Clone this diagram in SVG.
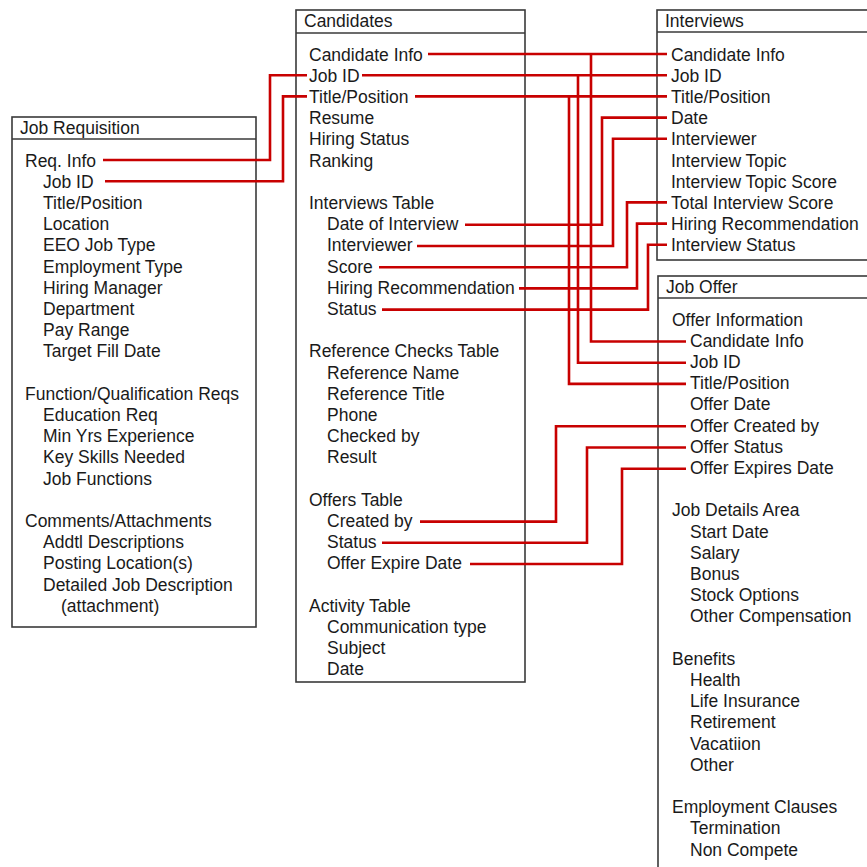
<svg xmlns="http://www.w3.org/2000/svg" width="867" height="867" viewBox="0 0 867 867">
  <style>
    .box { fill: #ffffff; stroke: #3a3a3a; stroke-width: 1.6; }
    .div { stroke: #3a3a3a; stroke-width: 1.6; }
    text { font-family: "Liberation Sans", Arial, Helvetica, sans-serif; font-size: 17.5px; fill: #1a1a1a; }
    .link { fill: none; stroke: #c80000; stroke-width: 2.6; stroke-linejoin: miter; }
  </style>
  <rect width="867" height="867" fill="#ffffff"/>

  <!-- Job Requisition -->
  <g id="job-requisition">
    <rect class="box" x="12" y="117" width="244" height="510"/>
    <line class="div" x1="12" y1="139" x2="256" y2="139"/>
    <text x="20" y="134">Job Requisition</text>
    <text x="25" y="166.5">Req. Info</text>
    <text x="43" y="187.7">Job ID</text>
    <text x="43" y="208.9">Title/Position</text>
    <text x="43" y="230.1">Location</text>
    <text x="43" y="251.3">EEO Job Type</text>
    <text x="43" y="272.5">Employment Type</text>
    <text x="43" y="293.7">Hiring Manager</text>
    <text x="43" y="314.9">Department</text>
    <text x="43" y="336.1">Pay Range</text>
    <text x="43" y="357.3">Target Fill Date</text>
    <text x="25" y="399.7">Function/Qualification Reqs</text>
    <text x="43" y="420.9">Education Req</text>
    <text x="43" y="442.1">Min Yrs Experience</text>
    <text x="43" y="463.3">Key Skills Needed</text>
    <text x="43" y="484.5">Job Functions</text>
    <text x="25" y="526.9">Comments/Attachments</text>
    <text x="43" y="548.1">Addtl Descriptions</text>
    <text x="43" y="569.3">Posting Location(s)</text>
    <text x="43" y="590.5">Detailed Job Description</text>
    <text x="61" y="611.7">(attachment)</text>
  </g>

  <!-- Candidates -->
  <g id="candidates">
    <rect class="box" x="296" y="10" width="229" height="672"/>
    <line class="div" x1="296" y1="33" x2="525" y2="33"/>
    <text x="304" y="27">Candidates</text>
    <text x="309" y="60.5">Candidate Info</text>
    <text x="309" y="81.7">Job ID</text>
    <text x="309" y="102.9">Title/Position</text>
    <text x="309" y="124.1">Resume</text>
    <text x="309" y="145.3">Hiring Status</text>
    <text x="309" y="166.5">Ranking</text>
    <text x="309" y="208.9">Interviews Table</text>
    <text x="327" y="230.1">Date of Interview</text>
    <text x="327" y="251.3">Interviewer</text>
    <text x="327" y="272.5">Score</text>
    <text x="327" y="293.7">Hiring Recommendation</text>
    <text x="327" y="314.9">Status</text>
    <text x="309" y="357.3">Reference Checks Table</text>
    <text x="327" y="378.5">Reference Name</text>
    <text x="327" y="399.7">Reference Title</text>
    <text x="327" y="420.9">Phone</text>
    <text x="327" y="442.1">Checked by</text>
    <text x="327" y="463.3">Result</text>
    <text x="309" y="505.7">Offers Table</text>
    <text x="327" y="526.9">Created by</text>
    <text x="327" y="548.1">Status</text>
    <text x="327" y="569.3">Offer Expire Date</text>
    <text x="309" y="611.7">Activity Table</text>
    <text x="327" y="632.9">Communication type</text>
    <text x="327" y="654.1">Subject</text>
    <text x="327" y="675.3">Date</text>
  </g>

  <!-- Interviews -->
  <g id="interviews">
    <rect class="box" x="657" y="10" width="220" height="250"/>
    <line class="div" x1="657" y1="32" x2="877" y2="32"/>
    <text x="665" y="27">Interviews</text>
    <text x="671" y="60.5">Candidate Info</text>
    <text x="671" y="81.7">Job ID</text>
    <text x="671" y="102.9">Title/Position</text>
    <text x="671" y="124.1">Date</text>
    <text x="671" y="145.3">Interviewer</text>
    <text x="671" y="166.5">Interview Topic</text>
    <text x="671" y="187.7">Interview Topic Score</text>
    <text x="671" y="208.9">Total Interview Score</text>
    <text x="671" y="230.1">Hiring Recommendation</text>
    <text x="671" y="251.3">Interview Status</text>
  </g>

  <!-- Job Offer -->
  <g id="job-offer">
    <rect class="box" x="658" y="276" width="220" height="610"/>
    <line class="div" x1="658" y1="298" x2="878" y2="298"/>
    <text x="666" y="293">Job Offer</text>
    <text x="672" y="325.5">Offer Information</text>
    <text x="690" y="346.7">Candidate Info</text>
    <text x="690" y="367.9">Job ID</text>
    <text x="690" y="389.1">Title/Position</text>
    <text x="690" y="410.3">Offer Date</text>
    <text x="690" y="431.5">Offer Created by</text>
    <text x="690" y="452.7">Offer Status</text>
    <text x="690" y="473.9">Offer Expires Date</text>
    <text x="672" y="516.3">Job Details Area</text>
    <text x="690" y="537.5">Start Date</text>
    <text x="690" y="558.7">Salary</text>
    <text x="690" y="579.9">Bonus</text>
    <text x="690" y="601.1">Stock Options</text>
    <text x="690" y="622.3">Other Compensation</text>
    <text x="672" y="664.7">Benefits</text>
    <text x="690" y="685.9">Health</text>
    <text x="690" y="707.1">Life Insurance</text>
    <text x="690" y="728.3">Retirement</text>
    <text x="690" y="749.5">Vacatiion</text>
    <text x="690" y="770.7">Other</text>
    <text x="672" y="813.1">Employment Clauses</text>
    <text x="690" y="834.3">Termination</text>
    <text x="690" y="855.5">Non Compete</text>
  </g>

  <!-- Field links -->
  <g id="connectors">
    <!-- Job Requisition to Candidates -->
    <polyline class="link" points="103,160 270,160 270,75.2 307,75.2"/>
    <polyline class="link" points="105,181.2 283,181.2 283,96.4 307,96.4"/>
    <!-- Candidates to Interviews -->
    <polyline class="link" points="428,54 667,54"/>
    <polyline class="link" points="362,75.2 667,75.2"/>
    <polyline class="link" points="415,96.4 667,96.4"/>
    <!-- Candidates to Job Offer -->
    <polyline class="link" points="591,54 591,341.5 686,341.5"/>
    <polyline class="link" points="578,75.2 578,362.7 686,362.7"/>
    <polyline class="link" points="569,96.4 569,383.9 686,383.9"/>
    <!-- Interviews table to Interviews -->
    <polyline class="link" points="667,117.6 602,117.6 602,224.8 465,224.8"/>
    <polyline class="link" points="667,138.8 613,138.8 613,246 417,246"/>
    <polyline class="link" points="667,202.4 627,202.4 627,267.2 379,267.2"/>
    <polyline class="link" points="667,223.6 637,223.6 637,288.4 519,288.4"/>
    <polyline class="link" points="667,244.8 648,244.8 648,309.6 382,309.6"/>
    <!-- Offers table to Job Offer -->
    <polyline class="link" points="686,426.3 556,426.3 556,521.6 420,521.6"/>
    <polyline class="link" points="686,447.5 587,447.5 587,542.8 382,542.8"/>
    <polyline class="link" points="686,468.7 622,468.7 622,564 470,564"/>
  </g>
</svg>
